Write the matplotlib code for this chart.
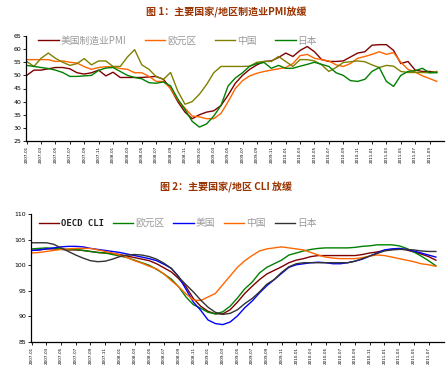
import matplotlib
matplotlib.use('Agg')
import matplotlib.pyplot as plt
import pandas as pd

plt.rcParams['font.family'] = ['Noto Sans CJK SC', 'DejaVu Sans']

# ---- 图1 PMI, monthly 2007-01 .. 2011-10
pmi_months = pd.date_range('2007-01', periods=58, freq='MS')
us_pmi = [50, 52, 52, 52.5, 53, 53, 52.5, 51, 50.5, 51, 52, 49.8,
          51.2, 49.2, 49.2, 49.2, 49.2, 49.4, 49.6, 48.5, 45, 40, 36, 33.5,
          35, 36, 36.5, 38.5, 42.5, 47, 50, 52.3, 54, 55.3, 55.5, 56.8,
          58.5, 57.2, 59.5, 61, 59, 56, 55.3, 55.3, 55.5, 57, 58.5, 59,
          61.5, 61.7, 61.7, 59.5, 54.5, 55.3, 52, 51.5, 51.5, 51.2]
euro_pmi = [56, 56, 56, 56, 55.3, 55.5, 55, 54.7, 53.3, 52.3, 53, 53.3,
            53.3, 52.6, 52.3, 51, 51, 49.6, 47.7, 47.7, 45, 40.6, 37.5, 34.5,
            34.2, 33.5, 33.5, 35.5, 40, 45, 48, 49.8, 50.8, 51.5, 52, 52.5,
            53, 54.5, 57.5, 58, 56.5, 56, 55.5, 54, 53.4, 54.5, 56.5, 57.2,
            58, 59, 58, 58.7, 55, 52.3, 51.3, 49.8, 48.8, 47.7]
china_pmi = [55.3, 53.4, 56.5, 58.5, 56.5, 55, 53.8, 54.5, 56.4, 54, 55.5, 55.5,
             53.4, 53.4, 57, 59.8, 54, 52.3, 49.5, 48.5, 51.1, 44, 39, 40,
             42.8, 46.5, 51, 53.4, 53.4, 53.4, 53.4, 53.5, 55, 55.3, 55.3, 57.2,
             55.3, 53.4, 56, 56, 55.5, 54, 51.5, 53, 54.9, 55.2, 55.5, 55.2,
             54, 53, 53.8, 53.5, 51.5, 51.1, 51.1, 51.1, 51, 51.5]
japan_pmi = [53.8, 53.4, 53, 52.6, 52, 51.1, 49.6, 49.6, 49.8, 50, 51.9, 52.8,
             53, 51.5, 50, 49.2, 48.7, 47.2, 47, 47.5, 46, 41, 37, 32.5,
             30.3, 31.5, 34.5, 38.5, 46, 49, 51, 53.5, 54.5, 54.9, 52.7, 53.8,
             52.7, 52.7, 53.5, 54.2, 55, 54.2, 53.4, 51, 50, 48, 47.7, 48.5,
             51.5, 53, 47.7, 45.8, 50, 51.5, 51.8, 52.7, 51, 51]
pmi_names = ['美国制造业PMI', '欧元区', '中国', '日本']
pmi_colors = ['#800000', '#FF6600', '#808000', '#008000']

# ---- 图2 CLI, monthly 2007-01 .. 2011-08
cli_months = pd.date_range('2007-01', periods=56, freq='MS')
oecd_cli = [102.9, 103.0, 103.2, 103.2, 103.1, 103.0, 103.0, 102.9, 102.7, 102.5, 102.4, 102.3,
            102.1, 101.8, 101.5, 101.2, 100.9, 100.3, 99.5, 98.7, 97.4, 95.8, 93.5, 92.0,
            91.0, 90.5, 90.5, 91.3, 92.8, 94.5, 95.9, 97.2, 98.3, 99.0, 99.7, 100.5,
            101.0, 101.3, 101.7, 101.9, 101.9, 101.9, 101.9, 101.9, 101.9, 102.1, 102.4, 102.6,
            102.9, 103.1, 103.2, 103.0, 102.6, 102.2, 101.7, 101.0]
euro_cli = [103.2, 103.3, 103.4, 103.3, 103.2, 103.1, 103.1, 102.9, 102.7, 102.5, 102.4, 102.1,
            101.8, 101.5, 101.0, 100.5, 100.0, 99.2, 98.3, 97.3, 95.8, 93.8, 92.3, 91.6,
            90.8, 90.5, 90.9, 92.0, 93.6, 95.4, 96.7, 98.5, 99.6, 100.3, 101.0, 102.0,
            102.4, 102.8, 103.1, 103.3, 103.4, 103.4, 103.4, 103.4, 103.5, 103.7, 103.8, 104.0,
            104.0, 104.0, 103.8, 103.3, 102.6, 101.8, 100.9, 99.9]
us_cli = [102.9, 103.0, 103.2, 103.4, 103.6, 103.7, 103.7, 103.6, 103.3, 103.1, 102.9, 102.7,
          102.5, 102.2, 101.9, 101.6, 101.3, 100.9, 100.2, 99.4, 97.8, 95.3, 92.8, 91.2,
          89.3, 88.6, 88.4, 88.9, 90.1, 91.7, 93.0, 94.6, 96.0, 97.2, 98.4, 99.6,
          100.1, 100.3, 100.5, 100.6, 100.5, 100.3, 100.3, 100.5, 100.8, 101.2, 101.8, 102.4,
          103.0, 103.2, 103.3, 103.1, 102.8, 102.4, 102.0, 101.6]
china_cli = [102.4, 102.5, 102.7, 102.9, 103.1, 103.2, 103.3, 103.3, 103.3, 103.0, 102.7, 102.4,
             102.0, 101.5, 100.9, 100.4, 99.8, 99.3, 98.3, 97.0, 95.8, 94.4, 93.2, 93.1,
             93.8, 94.5, 96.2, 97.9, 99.6, 100.9, 101.9, 102.8, 103.2, 103.4, 103.6, 103.4,
             103.2, 103.0, 102.5, 102.0, 101.6, 101.4, 101.3, 101.3, 101.3, 101.5, 101.8, 102.0,
             101.9, 101.6, 101.3, 101.0, 100.7, 100.3, 100.1, 99.8]
japan_cli = [104.4, 104.4, 104.4, 104.1, 103.4, 102.7, 102.0, 101.4, 100.9, 100.7, 100.8, 101.2,
             101.7, 102.0, 102.1, 102.0, 101.7, 101.2, 100.4, 99.4, 97.7, 96.2, 94.8, 93.2,
             91.8, 90.8, 90.4, 90.6, 91.3, 92.5, 93.5, 94.8, 96.3, 97.2, 98.6, 99.7,
             100.3, 100.5, 100.5, 100.5, 100.5, 100.5, 100.5, 100.5, 100.8, 101.3, 101.8, 102.3,
             102.8, 103.0, 103.1, 103.1, 103.0, 102.8, 102.7, 102.7]
cli_names = ['OECD CLI', '欧元区', '美国', '中国', '日本']
cli_colors = ['#800000', '#008000', '#0000FF', '#FF6600', '#333333']

title_color = '#993300'

fig = plt.figure(figsize=(4.48, 3.75), dpi=100)
fig.patch.set_facecolor('white')


def style_axes(ax, months, yticks):
    x = list(range(len(months)))
    ax.set_xticks(x[::2])
    ax.set_xticklabels([d.strftime('%Y-%m') for d in months[::2]],
                       rotation=90, fontsize=3, family='DejaVu Sans')
    ax.set_yticks(yticks)
    ax.set_yticklabels([str(v) for v in yticks], fontsize=4.5, family='DejaVu Sans')
    ax.set_ylim(yticks[0], yticks[-1])
    for s in ['top', 'right']:
        ax.spines[s].set_visible(False)
    for s in ['left', 'bottom']:
        ax.spines[s].set_linewidth(0.9)
    ax.tick_params(length=2, width=0.6, pad=1.5)


# top chart
ax1 = fig.add_axes([0.058, 0.624, 0.933, 0.28])
xs = range(len(pmi_months))
for vals, name, c in zip([us_pmi, euro_pmi, china_pmi, japan_pmi], pmi_names, pmi_colors):
    ax1.plot(xs, vals, color=c, lw=1.0, label=name)
ax1.set_xlim(-0.1, 58)
style_axes(ax1, pmi_months, list(range(25, 70, 5)))
leg1 = ax1.legend(loc='upper left', bbox_to_anchor=(0.02, 1.04), ncol=4, frameon=False,
                  fontsize=7, handlelength=2.1, handletextpad=0.2, columnspacing=1.9,
                  borderaxespad=0)
for t in leg1.get_texts():
    t.set_color('#999999')
fig.text(0.505, 0.968, '图 1：主要国家/地区制造业PMI放缓', ha='center', va='center',
         fontsize=7.2, fontweight='bold', color=title_color)

# bottom chart
ax2 = fig.add_axes([0.069, 0.088, 0.922, 0.341])
xs = range(len(cli_months))
for vals, name, c in zip([oecd_cli, euro_cli, us_cli, china_cli, japan_cli], cli_names, cli_colors):
    ax2.plot(xs, vals, color=c, lw=1.0, label=name)
ax2.set_xlim(-0.1, 56.1)
style_axes(ax2, cli_months, list(range(85, 115, 5)))
leg2 = ax2.legend(loc='upper left', bbox_to_anchor=(0.01, 1.0), ncol=5, frameon=False,
                  fontsize=7, handlelength=2.1, handletextpad=0.2, columnspacing=0.9,
                  borderaxespad=0)
for i, t in enumerate(leg2.get_texts()):
    if i == 0:
        t.set_color('#222222')
        t.set_family('DejaVu Sans Mono')
        t.set_fontweight('bold')
        t.set_fontsize(6.5)
    else:
        t.set_color('#999999')
fig.text(0.505, 0.501, '图 2：主要国家/地区 CLI 放缓', ha='center', va='center',
         fontsize=7.2, fontweight='bold', color=title_color)

fig.savefig('out.png', dpi=100, facecolor='white')
